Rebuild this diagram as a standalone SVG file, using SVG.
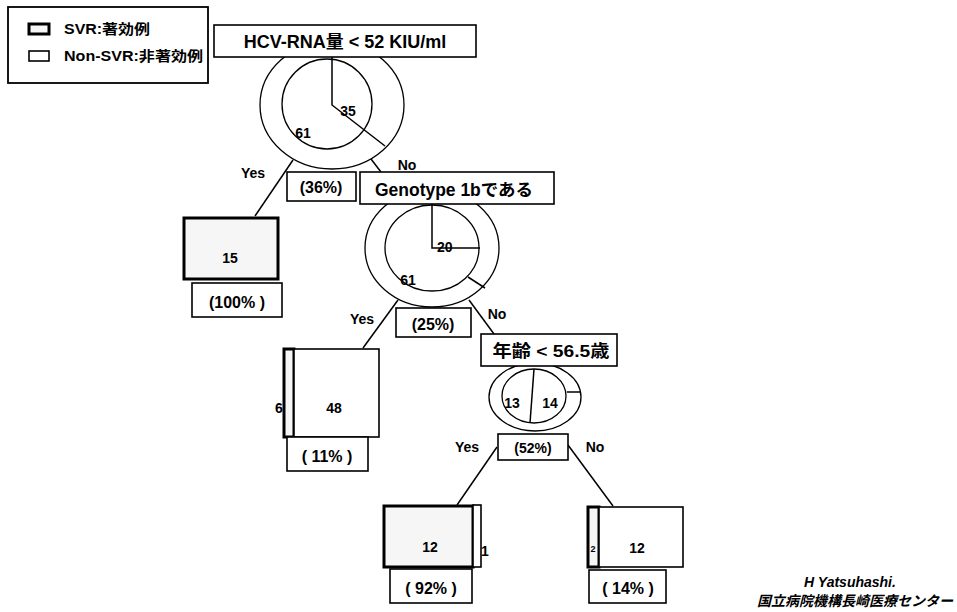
<svg xmlns="http://www.w3.org/2000/svg" width="957" height="612" viewBox="0 0 957 612">
<style>
text{font-family:"Liberation Sans","Noto Sans CJK JP",sans-serif;font-weight:bold;fill:#000}
.box{fill:#fff;stroke:#000;stroke-width:1.6}
.svr{fill:#f6f6f6;stroke:#000;stroke-width:3}
.ring{fill:none;stroke:#000;stroke-width:1.3}
.ln{stroke:#000;stroke-width:1.5;fill:none}
.c{text-anchor:middle}
.q{font-size:18px}
.p{font-size:16px}
.n{font-size:14px}
.it{font-style:italic;font-size:14px}
</style>
<rect width="957" height="612" fill="#fff"/>
<g id="legend">
<rect x="8" y="7" width="200" height="76" fill="#fff" stroke="#000" stroke-width="1.8"/>
<rect x="29" y="24" width="20" height="10" class="svr" stroke-width="2.5"/>
<text x="64" y="34" font-size="14" textLength="86" lengthAdjust="spacingAndGlyphs">SVR:著効例</text>
<rect x="29" y="51" width="20" height="10" class="box" stroke-width="1.4"/>
<text x="64" y="61" font-size="14" textLength="139" lengthAdjust="spacingAndGlyphs">Non-SVR:非著効例</text>
</g>
<g id="connectors">
<line class="ln" x1="293" y1="160" x2="255" y2="216"/>
<line class="ln" x1="371" y1="159" x2="381" y2="172"/>
<line class="ln" x1="398" y1="300" x2="363" y2="348"/>
<line class="ln" x1="469" y1="300" x2="494" y2="334"/>
<line class="ln" x1="497" y1="447" x2="457" y2="505"/>
<line class="ln" x1="568" y1="445" x2="613" y2="506"/>
</g>
<g id="node-hcv">
<ellipse class="ring" cx="332" cy="105" rx="72" ry="64"/>
<ellipse class="ring" cx="327" cy="104" rx="45" ry="45"/>
<polyline class="ln" points="332,57 332,105 385,146"/>
<text x="348" y="116" class="n c">35</text>
<text x="303" y="138" class="n c">61</text>
<rect x="214" y="25" width="262" height="32" class="box"/>
<text x="345" y="48" class="q c">HCV-RNA量 &lt; 52 KIU/ml</text>
<rect x="287" y="172" width="69" height="29" class="box"/>
<text x="321" y="193" class="p c">(36%)</text>
<text x="253" y="178" class="n c">Yes</text>
<text x="407" y="170" class="n c">No</text>
</g>
<g id="leaf-15">
<rect x="184" y="218" width="94" height="61" class="svr"/>
<text x="230" y="263" class="n c">15</text>
<rect x="192" y="283" width="90" height="34" class="box"/>
<text x="237" y="308" class="p c">(100% )</text>
</g>
<g id="node-genotype">
<ellipse class="ring" cx="432" cy="248" rx="67" ry="59"/>
<ellipse class="ring" cx="432" cy="248" rx="47" ry="43"/>
<polyline class="ln" points="432,204 432,248 480,248"/>
<line class="ln" x1="468" y1="277" x2="485" y2="288"/>
<text x="437" y="252" class="n">20</text>
<text x="408" y="285" class="n c">61</text>
<rect x="360" y="172" width="194" height="32" class="box"/>
<text x="454" y="196" font-size="17.5" class="c" textLength="158" lengthAdjust="spacingAndGlyphs">Genotype 1bである</text>
<rect x="396" y="308" width="75" height="29" class="box"/>
<text x="433" y="330" class="p c">(25%)</text>
<text x="362" y="324" class="n c">Yes</text>
<text x="497" y="319" class="n c">No</text>
</g>
<g id="leaf-48">
<rect x="284" y="349" width="10" height="88" class="svr" stroke-width="2.5"/>
<rect x="294" y="349" width="85" height="88" class="box"/>
<text x="279" y="413" class="n c">6</text>
<text x="334" y="413" class="n c">48</text>
<rect x="287" y="437" width="81" height="34" class="box"/>
<text x="327" y="462" class="p c">( 11% )</text>
</g>
<g id="node-age">
<ellipse class="ring" cx="535" cy="397" rx="46" ry="34"/>
<ellipse class="ring" cx="534" cy="396" rx="32" ry="27"/>
<line class="ln" x1="534" y1="369" x2="530" y2="423"/>
<line class="ln" x1="567" y1="392" x2="580" y2="392"/>
<text x="512" y="408" class="n c">13</text>
<text x="550" y="408" class="n c">14</text>
<rect x="481" y="334" width="136" height="32" class="box"/>
<text x="551" y="357" font-size="16.5" class="c" textLength="117" lengthAdjust="spacingAndGlyphs">年齢 &lt; 56.5歳</text>
<rect x="498" y="434" width="70" height="26" class="box"/>
<text x="533" y="453" class="n c">(52%)</text>
<text x="467" y="452" class="n c">Yes</text>
<text x="595" y="452" class="n c">No</text>
</g>
<g id="leaf-12-yes">
<rect x="384" y="506" width="89" height="61" class="svr"/>
<rect x="473" y="505" width="8" height="62" class="box"/>
<text x="430" y="552" class="n c">12</text>
<text x="485" y="556" class="n c">1</text>
<rect x="390" y="569" width="82" height="34" class="box"/>
<text x="431" y="594" class="p c">( 92% )</text>
</g>
<g id="leaf-12-no">
<rect x="588" y="507" width="11" height="60" class="svr" stroke-width="2.5"/>
<rect x="599" y="507" width="84" height="60" class="box"/>
<text x="593" y="552" font-size="9" class="c">2</text>
<text x="637" y="553" class="n c">12</text>
<rect x="589" y="570" width="77" height="33" class="box"/>
<text x="628" y="594" class="p c">( 14% )</text>
</g>
<g id="credit">
<text x="850" y="587" class="it c">H Yatsuhashi.</text>
<text x="855" y="606" class="it c">国立病院機構長崎医療センター</text>
</g>
</svg>
